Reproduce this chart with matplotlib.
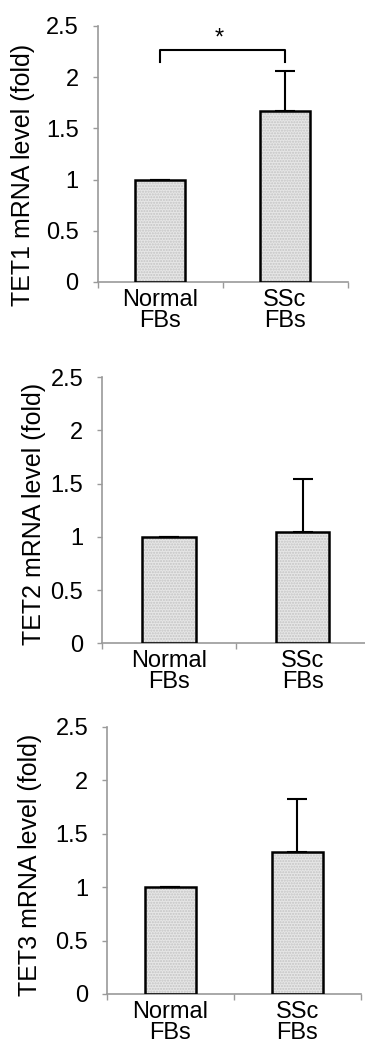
import matplotlib
matplotlib.use("Agg")
import matplotlib.pyplot as plt
from matplotlib.ticker import FormatStrFormatter

plt.rcParams['font.family'] = ['Liberation Sans', 'DejaVu Sans']

categories = ["Normal\nFBs", "SSc\nFBs"]
genes = ["TET1", "TET2", "TET3"]
tet1_values = [1.0, 1.67]
tet1_errors = [0.0, 0.39]
tet2_values = [1.0, 1.05]
tet2_errors = [0.0, 0.49]
tet3_values = [1.0, 1.33]
tet3_errors = [0.0, 0.49]
yticks = [0, 0.5, 1, 1.5, 2, 2.5]

panels = [
    (tet1_values, tet1_errors),
    (tet2_values, tet2_errors),
    (tet3_values, tet3_errors),
]

W, H = 365, 1047
fig = plt.figure(figsize=(W / 100, H / 100), dpi=100)

# axes boxes in pixels: (left, right, bottom_y, top_y)
boxes = [
    (97.5, 347.5, 282, 26),
    (102, 369.5, 643.3, 377.3),
    (107, 360.6, 994, 726.7),
]
label_pos = [(23, 175), (34, 514), (30, 865)]

axis_gray = "#9a9a9a"

for i, ((vals, errs), box, lp, gene) in enumerate(zip(panels, boxes, label_pos, genes)):
    l, r, b, t = box
    ax = fig.add_axes([l / W, 1 - b / H, (r - l) / W, (b - t) / H])
    x = list(range(len(categories)))
    ax.bar(x, vals, width=0.4, color="#e6e6e6", edgecolor="#c4c4c4",
           linewidth=0, hatch="......", zorder=2)
    ax.bar(x, vals, width=0.4, color="none", edgecolor="black",
           linewidth=1.8, zorder=3)
    ax.errorbar(x, vals, yerr=[[0] * len(errs), errs], fmt="none",
                ecolor="black", elinewidth=1.5, capsize=7, capthick=1.5, zorder=1)
    ax.set_xlim(-0.5, 1.5)
    ax.set_ylim(0, 2.5)
    ax.set_yticks(yticks)
    ax.yaxis.set_major_formatter(FormatStrFormatter('%g'))
    ax.set_xticks([-0.5, 0.5, 1.5])
    ax.set_xticklabels(["", "", ""])
    ax.set_xticks(x, minor=True)
    ax.set_xticklabels(categories, minor=True)
    ax.tick_params(axis="x", which="minor", length=0, pad=5, labelsize=17)
    ax.tick_params(axis="x", which="major", length=4, color=axis_gray, width=1)
    ax.tick_params(axis="y", length=3.5, color=axis_gray, width=1, labelsize=17, pad=10)
    for tl in ax.get_xticklabels(minor=True):
        tl.set_linespacing(0.92)
    for s in ["top", "right"]:
        ax.spines[s].set_visible(False)
    for s in ["left", "bottom"]:
        ax.spines[s].set_color(axis_gray)
        ax.spines[s].set_linewidth(1.2)
    ax.patch.set_alpha(0)
    fig.text(lp[0] / W, 1 - lp[1] / H, f"{gene} mRNA level (fold)", rotation=90,
             ha="center", va="center", fontsize=18)
    if i == 0:
        ax.plot([0, 0, 1, 1], [2.15, 2.27, 2.27, 2.15], color="black", lw=1.5,
                clip_on=False)
        ax.text(0.47, 2.27, "*", ha="center", va="bottom", fontsize=17)

fig.savefig("out.png", dpi=100)
